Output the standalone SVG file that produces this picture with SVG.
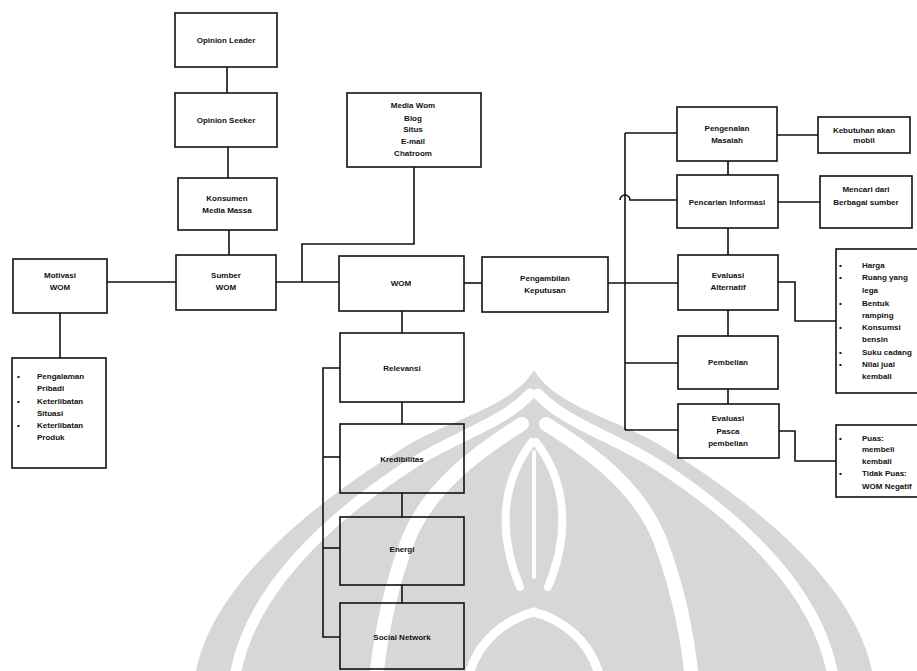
<svg xmlns="http://www.w3.org/2000/svg" width="917" height="671" viewBox="0 0 917 671">
<style>
.box{fill:none;stroke:#111;stroke-width:1.6}
.ln{fill:none;stroke:#111;stroke-width:1.6}
.t{font-family:"Liberation Sans",Arial,sans-serif;font-size:8px;font-weight:bold;fill:#111;text-anchor:middle}
.l{font-family:"Liberation Sans",Arial,sans-serif;font-size:8px;font-weight:bold;fill:#111}
.wm{fill:#d7d7d7}
.gap{fill:none;stroke:#fff;stroke-linecap:round}
</style>
<rect width="917" height="671" fill="#fff"/>
<g id="watermark">
  <path class="wm" d="M534,370 C512,408 445,420 400,450 C300,512 212,590 196,671 L872,671 C856,590 768,512 668,450 C623,420 556,408 534,370 Z"/>
  <g id="wm-half">
    <path class="gap" stroke-width="11" d="M530,394 C505,422 452,438 410,465 C322,522 252,592 236,671"/>
    <path class="gap" stroke-width="14" d="M522,424 C472,455 428,490 408,540 C394,578 382,625 377,671"/>
    <path class="gap" stroke-width="8" d="M532,442 C505,477 495,527 520,587"/>
    <path class="gap" stroke-width="9" d="M470,671 C480,640 505,620 534,612"/>
  </g>
  <use href="#wm-half" transform="translate(1068,0) scale(-1,1)"/>
  <path class="gap" stroke-width="4" d="M534,452 L534,577"/>
</g>
<g id="connectors">
  <path class="ln" d="M107,282 H176"/>
  <path class="ln" d="M60,313 V358"/>
  <path class="ln" d="M227,67 V93"/>
  <path class="ln" d="M228,147 V178"/>
  <path class="ln" d="M229,230 V255"/>
  <path class="ln" d="M276,282 H339"/>
  <path class="ln" d="M302,282 V244 H414 V167"/>
  <path class="ln" d="M402,311 V333"/>
  <path class="ln" d="M402,402 V424"/>
  <path class="ln" d="M402,493 V517"/>
  <path class="ln" d="M402,585 V603"/>
  <path class="ln" d="M340,368 H323 V637 H340"/>
  <path class="ln" d="M323,457 H340"/>
  <path class="ln" d="M323,548 H340"/>
  <path class="ln" d="M464,283 H482"/>
  <path class="ln" d="M608,283 H678"/>
  <path class="ln" d="M625,133 V430"/>
  <path class="ln" d="M625,133 H677"/>
  <path class="ln" d="M620,200 A5,5 0 0 1 630,200 H677"/>
  <path class="ln" d="M625,363 H678"/>
  <path class="ln" d="M625,430 H678"/>
  <path class="ln" d="M728,161 V175"/>
  <path class="ln" d="M728,228 V255"/>
  <path class="ln" d="M728,310 V336"/>
  <path class="ln" d="M728,389 V404"/>
  <path class="ln" d="M777,135 H818"/>
  <path class="ln" d="M778,202 H820"/>
  <path class="ln" d="M778,282 H795 V321 H836"/>
  <path class="ln" d="M779,431 H795 V461 H836"/>
</g>
<g id="motivasi">
  <rect class="box" x="13" y="259" width="94" height="54"/>
  <text class="t" x="60" y="278">Motivasi</text>
  <text class="t" x="60" y="290">WOM</text>
</g>
<g id="faktor-motivasi">
  <rect class="box" x="12" y="358" width="94" height="110"/>
  <text class="l" x="17" y="379">•</text>
  <text class="l" x="37" y="379">Pengalaman</text>
  <text class="l" x="37" y="391">Pribadi</text>
  <text class="l" x="17" y="404">•</text>
  <text class="l" x="37" y="404">Keterlibatan</text>
  <text class="l" x="37" y="416">Situasi</text>
  <text class="l" x="17" y="428">•</text>
  <text class="l" x="37" y="428">Keterlibatan</text>
  <text class="l" x="37" y="440">Produk</text>
</g>
<g id="opinion-leader">
  <rect class="box" x="175" y="13" width="102" height="54"/>
  <text class="t" x="226" y="43">Opinion Leader</text>
</g>
<g id="opinion-seeker">
  <rect class="box" x="175" y="93" width="102" height="54"/>
  <text class="t" x="226" y="123">Opinion Seeker</text>
</g>
<g id="konsumen-media-massa">
  <rect class="box" x="178" y="178" width="99" height="52"/>
  <text class="t" x="227" y="201">Konsumen</text>
  <text class="t" x="227" y="213">Media Massa</text>
</g>
<g id="sumber-wom">
  <rect class="box" x="176" y="255" width="100" height="55"/>
  <text class="t" x="226" y="278">Sumber</text>
  <text class="t" x="226" y="290">WOM</text>
</g>
<g id="media-wom">
  <rect class="box" x="347" y="93" width="134" height="74"/>
  <text class="t" x="413" y="108">Media Wom</text>
  <text class="t" x="413" y="121">Blog</text>
  <text class="t" x="413" y="132">Situs</text>
  <text class="t" x="413" y="144">E-mail</text>
  <text class="t" x="413" y="156">Chatroom</text>
</g>
<g id="wom">
  <rect class="box" x="339" y="256" width="125" height="55"/>
  <text class="t" x="401" y="286">WOM</text>
</g>
<g id="pengambilan-keputusan">
  <rect class="box" x="482" y="257" width="126" height="55"/>
  <text class="t" x="545" y="281">Pengambilan</text>
  <text class="t" x="545" y="293">Keputusan</text>
</g>
<g id="relevansi">
  <rect class="box" x="340" y="333" width="124" height="69"/>
  <text class="t" x="402" y="371">Relevansi</text>
</g>
<g id="kredibilitas">
  <rect class="box" x="340" y="424" width="124" height="69"/>
  <text class="t" x="402" y="462">Kredibilitas</text>
</g>
<g id="energi">
  <rect class="box" x="340" y="517" width="124" height="68"/>
  <text class="t" x="402" y="552">Energi</text>
</g>
<g id="social-network">
  <rect class="box" x="340" y="603" width="124" height="66"/>
  <text class="t" x="402" y="640">Social Network</text>
</g>
<g id="pengenalan-masalah">
  <rect class="box" x="677" y="107" width="100" height="54"/>
  <text class="t" x="727" y="131">Pengenalan</text>
  <text class="t" x="727" y="143">Masalah</text>
</g>
<g id="kebutuhan">
  <rect class="box" x="818" y="117" width="92" height="36"/>
  <text class="t" x="864" y="133">Kebutuhan akan</text>
  <text class="t" x="864" y="143">mobil</text>
</g>
<g id="pencarian-informasi">
  <rect class="box" x="677" y="175" width="101" height="53"/>
  <text class="t" x="727" y="205">Pencarian Informasi</text>
</g>
<g id="mencari">
  <rect class="box" x="820" y="176" width="92" height="52"/>
  <text class="t" x="866" y="192">Mencari dari</text>
  <text class="t" x="866" y="205">Berbagai sumber</text>
</g>
<g id="evaluasi-alternatif">
  <rect class="box" x="678" y="255" width="100" height="55"/>
  <text class="t" x="728" y="278">Evaluasi</text>
  <text class="t" x="728" y="290">Alternatif</text>
</g>
<g id="kriteria">
  <rect class="box" x="836" y="249" width="92" height="144"/>
  <text class="l" x="839" y="268">•</text><text class="l" x="862" y="268">Harga</text>
  <text class="l" x="839" y="280">•</text><text class="l" x="862" y="280">Ruang yang</text>
  <text class="l" x="862" y="293">lega</text>
  <text class="l" x="839" y="306">•</text><text class="l" x="862" y="306">Bentuk</text>
  <text class="l" x="862" y="318">ramping</text>
  <text class="l" x="839" y="330">•</text><text class="l" x="862" y="330">Konsumsi</text>
  <text class="l" x="862" y="342">bensin</text>
  <text class="l" x="839" y="355">•</text><text class="l" x="862" y="355">Suku cadang</text>
  <text class="l" x="839" y="367">•</text><text class="l" x="862" y="367">Nilai jual</text>
  <text class="l" x="862" y="379">kembali</text>
</g>
<g id="pembelian">
  <rect class="box" x="678" y="336" width="100" height="53"/>
  <text class="t" x="728" y="365">Pembelian</text>
</g>
<g id="evaluasi-pasca">
  <rect class="box" x="678" y="404" width="101" height="54"/>
  <text class="t" x="728" y="421">Evaluasi</text>
  <text class="t" x="728" y="434">Pasca</text>
  <text class="t" x="728" y="446">pembelian</text>
</g>
<g id="hasil">
  <rect class="box" x="836" y="425" width="92" height="72"/>
  <text class="l" x="839" y="441">•</text><text class="l" x="862" y="441">Puas:</text>
  <text class="l" x="862" y="452">membeli</text>
  <text class="l" x="862" y="464">kembali</text>
  <text class="l" x="839" y="476">•</text><text class="l" x="862" y="476">Tidak Puas:</text>
  <text class="l" x="862" y="489">WOM Negatif</text>
</g>
</svg>
